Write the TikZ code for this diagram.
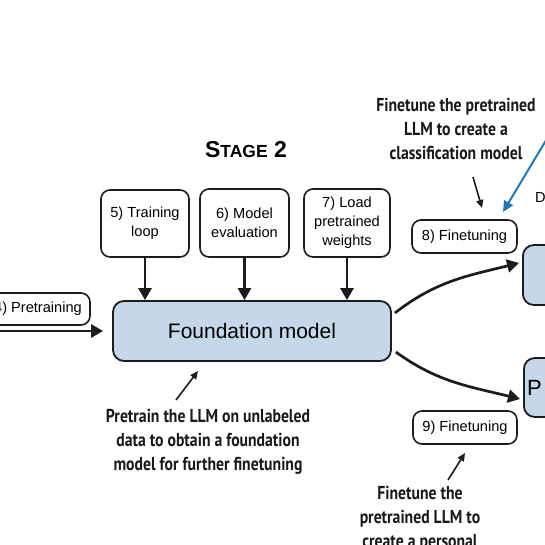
\documentclass[tikz,border=0pt]{standalone}
\usepackage{fontspec}
\setmainfont{Liberation Sans}
\newfontfamily\annotfont[FakeStretch=0.84]{PT Sans}
\usetikzlibrary{arrows.meta}
\definecolor{fmblue}{RGB}{198,215,234}
\definecolor{edgecol}{RGB}{28,28,28}
\definecolor{bluearrow}{RGB}{40,120,175}
\begin{document}
\begin{tikzpicture}[x=1pt,y=1pt,
  stepbox/.style={draw=edgecol,line width=1.6pt,rounded corners=9pt,align=center,
    font=\fontsize{14.6}{19}\selectfont,inner sep=0pt},
  bigbox/.style={draw=edgecol,line width=1.8pt,rounded corners=11pt,fill=fmblue,
    font=\fontsize{21}{25}\selectfont,inner sep=0pt},
  annot/.style={align=center,text=black!90,font=\annotfont\bfseries\fontsize{18.7}{24}\selectfont,inner sep=0pt},
  mainarrow/.style={draw=edgecol,line width=2.7pt,-{Triangle[length=12pt,width=13pt]}},
  thinarrow/.style={draw=edgecol,line width=1.6pt,-{Triangle[length=8pt,width=7pt]}},
  bluethin/.style={draw=bluearrow,line width=2pt,-{Triangle[length=11pt,width=10pt]}}]
\fill[white] (0,0) rectangle (545,-545);
\useasboundingbox (0,0) rectangle (545,-545);

% title
\node[inner sep=0pt] (title) at (246,-150)
  {\bfseries\fontsize{23}{23}\selectfont S\fontsize{17.5}{23}\selectfont TAGE\fontsize{23}{23}\selectfont\ 2};

% step boxes
\node[stepbox,minimum width=88,minimum height=67] (s5) at (145,-223.5) {5) Training\\loop};
\node[stepbox,minimum width=89,minimum height=68] (s6) at (244.5,-223) {6) Model\\evaluation};
\node[stepbox,minimum width=86,minimum height=68] (s7) at (347,-223) {7) Load\\pretrained\\weights};

% foundation model
\node[bigbox,minimum width=278,minimum height=60] (fm) at (252,-331) {Foundation model};

% pretraining box (cut at left, as in the reference)
\node[stepbox,minimum width=104,minimum height=32] (s4) at (38,-309) {4) Pretraining};
\coordinate (pin) at (-6,-331);

% finetuning boxes
\node[stepbox,minimum width=105,minimum height=33] (s8) at (464.5,-236.5) {8) Finetuning};
\node[stepbox,minimum width=104,minimum height=33] (s9) at (465,-427.5) {9) Finetuning};

% right-hand boxes (cut at right)
\node[bigbox,minimum width=120,minimum height=60,anchor=west] (cls) at (522,-275) {};
\node[bigbox,minimum width=120,minimum height=59,anchor=west] (pa) at (523,-387.5) {};
\node[inner sep=0pt,anchor=west,font=\fontsize{22}{25}\selectfont] (palabel) at (527,-387.5) {P};
\node[inner sep=0pt,anchor=west,font=\fontsize{14.6}{19}\selectfont] (dlabel) at (535,-197) {D};

% annotations
\node[annot] (a8) at (456,-129) {Finetune the pretrained\\LLM to create a\\classification model};
\node[annot] (afm) at (208,-442) {Pretrain the LLM on unlabeled\\data to obtain a foundation\\model for further finetuning};
\node[annot] (a9) at (420,-519) {Finetune the\\pretrained LLM to\\create a personal};

% main arrows
\draw[mainarrow] (s5.south) -- (fm.north -| s5.south);
\draw[mainarrow] (s6.south) -- (fm.north -| s6.south);
\draw[mainarrow] (s7.south) -- (fm.north -| s7.south);
\draw[mainarrow,shorten >=9pt] (pin) -- (fm.west);
\draw[mainarrow] ([xshift=3pt,yshift=18pt]fm.east) to[out=38,in=194] ([xshift=-3pt,yshift=12pt]cls.west);
\draw[mainarrow] ([xshift=4pt,yshift=-21pt]fm.east) to[out=-36,in=166] ([xshift=-3pt,yshift=-11.5pt]pa.west);

% annotation arrows
\coordinate (t8a) at (473,-177);
\coordinate (t8b) at (482,-208);
\draw[thinarrow] (t8a) -- (t8b);
\coordinate (tfa) at (176,-400);
\coordinate (tfb) at (198,-371);
\draw[thinarrow] (tfa) -- (tfb);
\coordinate (t9a) at (448,-480);
\coordinate (t9b) at (465,-453);
\draw[thinarrow] (t9a) -- (t9b);
\coordinate (ba) at (548,-137);
\coordinate (bb) at (503,-212);
\draw[bluethin] (ba) -- (bb);
\end{tikzpicture}
\end{document}
